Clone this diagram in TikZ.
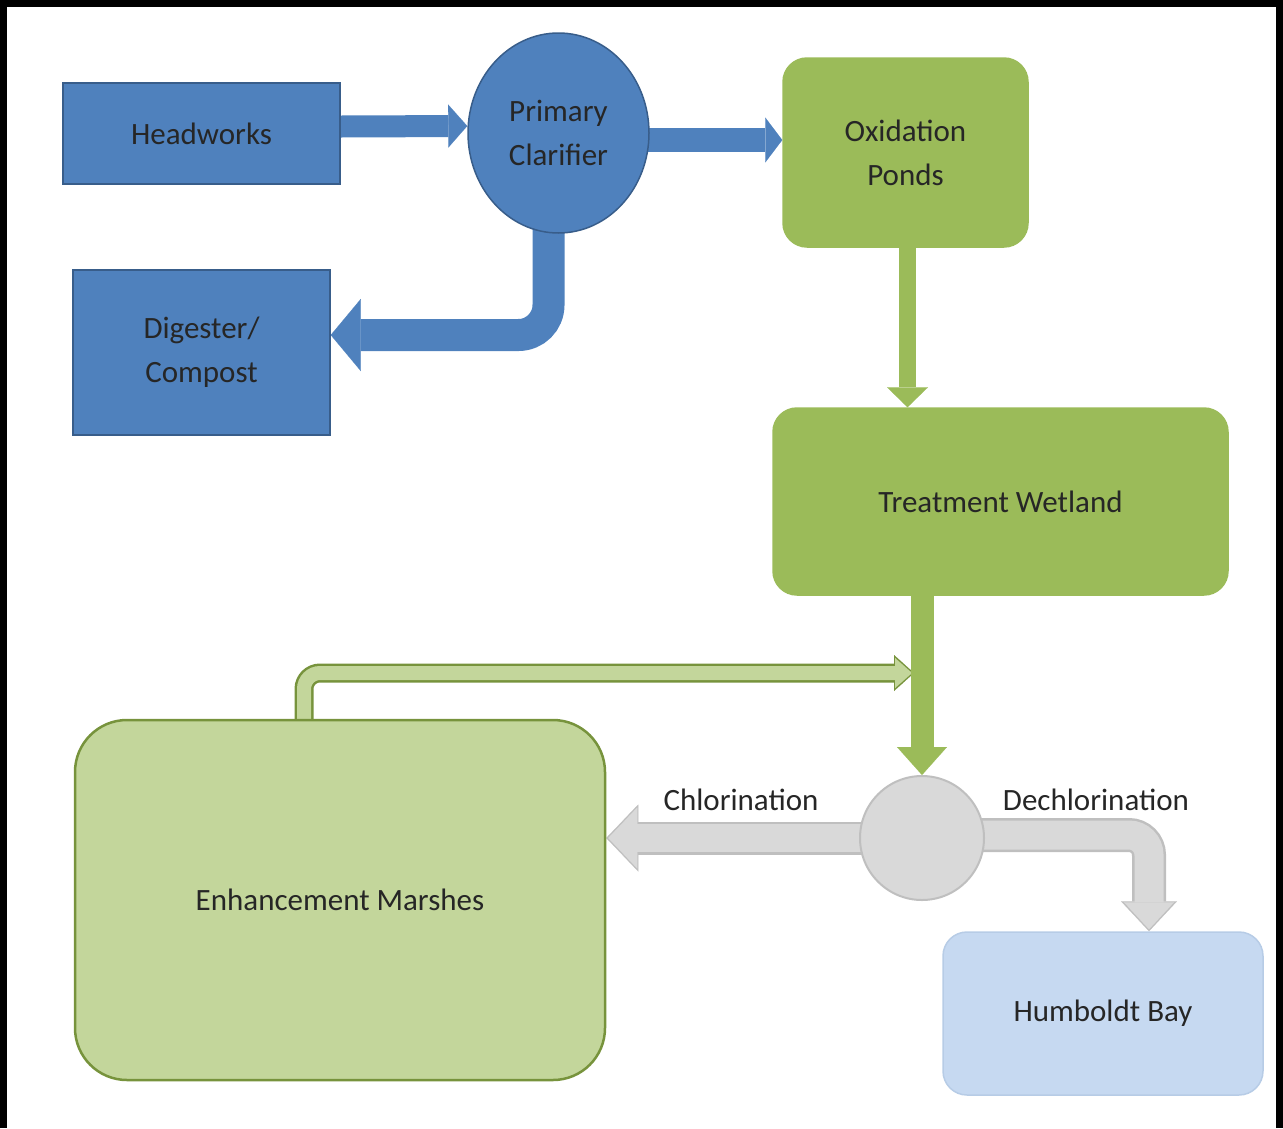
\documentclass[tikz,border=0pt]{standalone}
\usepackage{fontspec}
\setmainfont{Carlito}
\usetikzlibrary{arrows.meta,shapes.geometric,backgrounds}

\definecolor{blueFill}{HTML}{4F81BD}
\definecolor{blueEdge}{HTML}{385D8A}
\definecolor{greenFill}{HTML}{9BBB59}
\definecolor{marshFill}{HTML}{C3D69B}
\definecolor{marshEdge}{HTML}{77933C}
\definecolor{grayFill}{HTML}{D9D9D9}
\definecolor{grayEdge}{HTML}{BFBFBF}
\definecolor{bayFill}{HTML}{C6D9F1}
\definecolor{bayEdge}{HTML}{B7CCE6}
\definecolor{textDark}{HTML}{262626}

\tikzset{
    every node/.style={font=\fontsize{31}{44}\selectfont, text=textDark, align=center},
    bluebox/.style={rectangle, fill=blueFill, draw=blueEdge, line width=1.5pt},
    greenbox/.style={rectangle, rounded corners=24pt, fill=greenFill, draw=greenFill, line width=1.5pt},
    marshbox/.style={rectangle, rounded corners=52pt, fill=marshFill, draw=marshEdge, line width=2.5pt},
    baybox/.style={rectangle, rounded corners=24pt, fill=bayFill, draw=bayEdge, line width=1.5pt},
    junction/.style={circle, fill=grayFill, draw=grayEdge, line width=2pt, minimum size=124pt},
    flowlabel/.style={anchor=base},
    fat/.style n args={3}{line width=#1, -{Triangle[width=#2,length=#3,line width=0.1pt]}}
}

\begin{document}
\begin{tikzpicture}[x=1pt,y=-1pt]
        \useasboundingbox (0,0) rectangle (1283,1128);

        \node[bluebox, minimum width=277pt, minimum height=101pt] (hw) at (201.5,133.5) {Headworks};
        \node[ellipse, fill=blueFill, draw=blueEdge, line width=1.5pt,
              minimum width=181pt, minimum height=200pt] (pc) at (558.5,133) {Primary\\Clarifier};
        \node[bluebox, minimum width=257pt, minimum height=165pt] (dc) at (201.5,352.5) {Digester/\\Compost};
        \node[greenbox, minimum width=245pt, minimum height=189pt] (op) at (905.5,152.5) {Oxidation\\Ponds};
        \node[greenbox, minimum width=455pt, minimum height=187pt] (tw) at (1000.5,501.5) {Treatment Wetland};
        \node[junction] (gc) at (922,838) {};
        \node[marshbox, minimum width=530pt, minimum height=360pt] (em) at (340,900) {Enhancement Marshes};
        \node[baybox, minimum width=320pt, minimum height=163pt] (hb) at (1103,1013.5) {Humboldt Bay};
        \node[flowlabel] (chl) at (741,810) {Chlorination};
        \node[flowlabel] (dechl) at (1096,810) {Dechlorination};

        \begin{scope}[on background layer]
            % solids
            \draw[blueFill, fat={22pt}{43pt}{19pt}] ([yshift=7pt]hw.east) -- ([yshift=7pt]pc.west);
            \draw[blueFill, fat={24pt}{45pt}{17pt}] ([yshift=-7pt]pc.center) -- ([yshift=-7pt]pc.center -| op.west);
            \draw[blueFill, fat={32pt}{72pt}{30pt}, rounded corners=30pt] ([xshift=-10pt]pc.center) |- ([yshift=17.5pt]dc.east);

            % return from the marshes
            \draw[marshEdge, fat={19pt}{36pt}{20pt}, rounded corners=16pt] ([xshift=-36pt]em.north) |- ([xshift=-8pt,yshift=102pt]gc.north);
            \draw[marshFill, fat={14pt}{30pt}{17pt}, rounded corners=16pt, shorten >=2pt] ([xshift=-36pt]em.north) |- ([xshift=-8pt,yshift=102pt]gc.north);

            \draw[greenFill, fat={17pt}{41pt}{20pt}] ([xshift=2pt]op.center) -- ([xshift=2pt]op.center |- tw.north);
            \draw[greenFill, fat={23pt}{50pt}{28pt}] (gc.center |- tw.center) -- (gc.north);

            % outlined grey ones
            \draw[grayEdge, fat={33pt}{67pt}{32pt}] (gc.center) -- (gc.center -| em.east);
            \draw[grayFill, fat={28pt}{61pt}{29pt}, shorten >=2pt] (gc.center) -- (gc.center -| em.east);
            \draw[grayEdge, fat={34pt}{56pt}{30pt}, rounded corners=20pt] ([yshift=3pt]gc.center) -| ([xshift=46pt]hb.north);
            \draw[grayFill, fat={29pt}{50pt}{27pt}, rounded corners=20pt, shorten >=2pt] ([yshift=3pt]gc.center) -| ([xshift=46pt]hb.north);
        \end{scope}

        \draw[line width=7pt] (3.5,1128) -- (3.5,3.5) -- (1279.5,3.5) -- (1279.5,1128);
    \end{tikzpicture}
\end{document}
